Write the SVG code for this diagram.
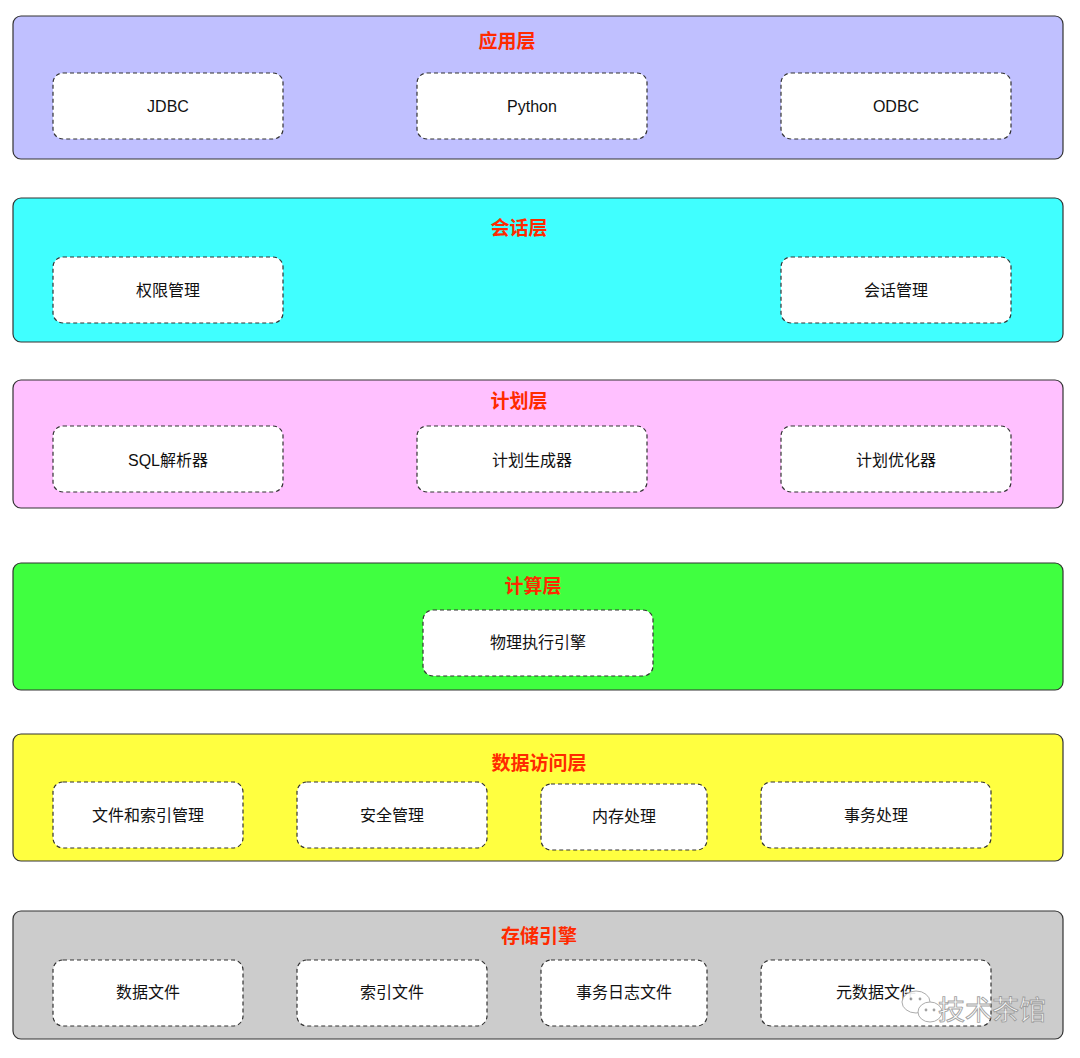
<svg xmlns="http://www.w3.org/2000/svg" width="1080" height="1058" viewBox="0 0 1080 1058">
<style>
.layer{stroke:#333;stroke-width:1.2}
.box{fill:#fff;stroke:#333;stroke-width:1.2;stroke-dasharray:4 3}
.title{font-family:"Noto Sans CJK SC","Liberation Sans",sans-serif;font-size:19px;font-weight:bold;fill:#ff2a00;text-anchor:middle;dominant-baseline:central}
.lbl{font-family:"Liberation Sans","Noto Sans CJK SC",sans-serif;font-size:16px;fill:#111;text-anchor:middle;dominant-baseline:central}
.wm{font-family:"Noto Sans CJK SC",sans-serif;font-size:27px;fill:#fff;stroke:#999;stroke-width:0.9}
</style>
<rect width="1080" height="1058" fill="#fff"/>
<g id="layer-app">
<rect class="layer" x="13" y="16" width="1050" height="143" rx="8" fill="#c0c0ff"/>
<text class="title" x="507" y="39">应用层</text>
</g>
<g id="node-jdbc"><rect class="box" x="53" y="73" width="230" height="66" rx="10"/><text class="lbl" x="168" y="106">JDBC</text></g>
<g id="node-python"><rect class="box" x="417" y="73" width="230" height="66" rx="10"/><text class="lbl" x="532" y="106">Python</text></g>
<g id="node-odbc"><rect class="box" x="781" y="73" width="230" height="66" rx="10"/><text class="lbl" x="896" y="106">ODBC</text></g>

<g id="layer-session">
<rect class="layer" x="13" y="198" width="1050" height="144" rx="8" fill="#40ffff"/>
<text class="title" x="519" y="226">会话层</text>
</g>
<g id="node-auth"><rect class="box" x="53" y="257" width="230" height="66" rx="10"/><text class="lbl" x="168" y="290">权限管理</text></g>
<g id="node-sess"><rect class="box" x="781" y="257" width="230" height="66" rx="10"/><text class="lbl" x="896" y="290">会话管理</text></g>

<g id="layer-plan">
<rect class="layer" x="13" y="380" width="1050" height="128" rx="8" fill="#ffc0ff"/>
<text class="title" x="519" y="399">计划层</text>
</g>
<g id="node-sql"><rect class="box" x="53" y="426" width="230" height="66" rx="10"/><text class="lbl" x="168" y="460">SQL解析器</text></g>
<g id="node-plangen"><rect class="box" x="417" y="426" width="230" height="66" rx="10"/><text class="lbl" x="532" y="460">计划生成器</text></g>
<g id="node-planopt"><rect class="box" x="781" y="426" width="230" height="66" rx="10"/><text class="lbl" x="896" y="460">计划优化器</text></g>

<g id="layer-compute">
<rect class="layer" x="13" y="563" width="1050" height="127" rx="8" fill="#40ff40"/>
<text class="title" x="533" y="584">计算层</text>
</g>
<g id="node-exec"><rect class="box" x="423" y="610" width="230" height="66" rx="10"/><text class="lbl" x="538" y="642">物理执行引擎</text></g>

<g id="layer-access">
<rect class="layer" x="13" y="734" width="1050" height="127" rx="8" fill="#ffff40"/>
<text class="title" x="539" y="761">数据访问层</text>
</g>
<g id="node-fileidx"><rect class="box" x="53" y="782" width="190" height="66" rx="10"/><text class="lbl" x="148" y="815">文件和索引管理</text></g>
<g id="node-sec"><rect class="box" x="297" y="782" width="190" height="66" rx="10"/><text class="lbl" x="392" y="815">安全管理</text></g>
<g id="node-mem"><rect class="box" x="541" y="784" width="166" height="66" rx="10"/><text class="lbl" x="624" y="816">内存处理</text></g>
<g id="node-txn"><rect class="box" x="761" y="782" width="230" height="66" rx="10"/><text class="lbl" x="876" y="815">事务处理</text></g>

<g id="layer-storage">
<rect class="layer" x="13" y="911" width="1050" height="128" rx="8" fill="#cccccc"/>
<text class="title" x="539" y="934">存储引擎</text>
</g>
<g id="node-datafile"><rect class="box" x="53" y="960" width="190" height="66" rx="10"/><text class="lbl" x="148" y="992">数据文件</text></g>
<g id="node-idxfile"><rect class="box" x="297" y="960" width="190" height="66" rx="10"/><text class="lbl" x="392" y="992">索引文件</text></g>
<g id="node-txlog"><rect class="box" x="541" y="960" width="166" height="66" rx="10"/><text class="lbl" x="624" y="992">事务日志文件</text></g>
<g id="node-meta"><rect class="box" x="761" y="960" width="230" height="66" rx="10"/><text class="lbl" x="876" y="992">元数据文件</text></g>

<g id="connectors"></g>

<g id="watermark" opacity="0.9">
<ellipse cx="916" cy="1002" rx="14" ry="11" fill="#fff" stroke="#999" stroke-width="0.9"/>
<ellipse cx="930" cy="1012" rx="12" ry="10" fill="#fff" stroke="#999" stroke-width="0.9"/>
<circle cx="911" cy="999" r="1.4" fill="#999"/>
<circle cx="920" cy="999" r="1.4" fill="#999"/>
<circle cx="926" cy="1010" r="1.4" fill="#999"/>
<circle cx="934" cy="1010" r="1.4" fill="#999"/>
<text class="wm" x="938" y="1020">技术茶馆</text>
</g>
</svg>
